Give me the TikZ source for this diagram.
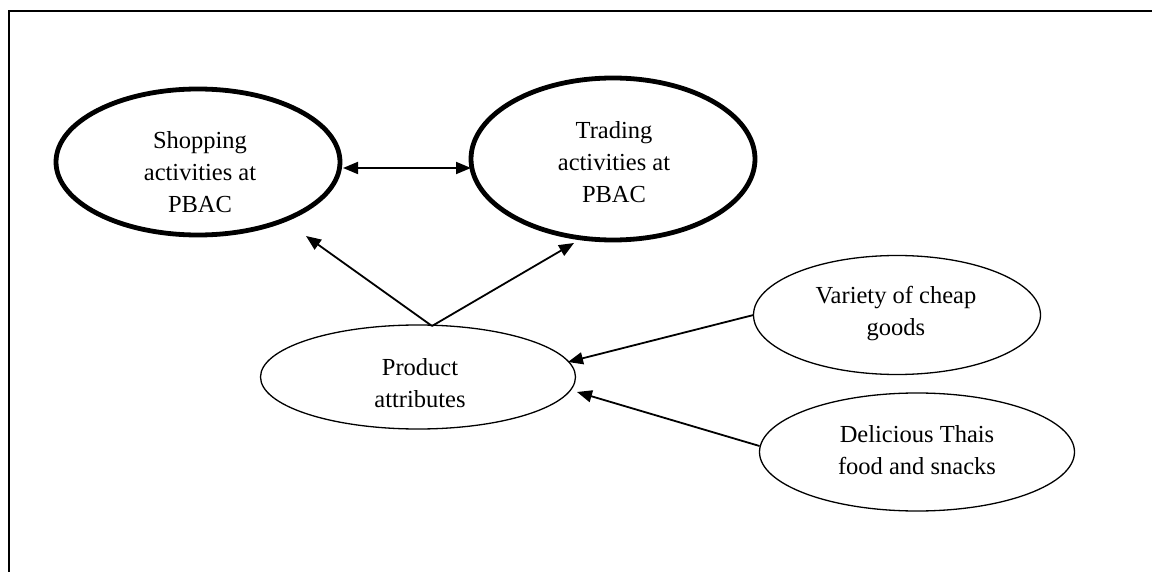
\documentclass[tikz,border=0pt]{standalone}
\usepackage{fontspec}
\setmainfont{Liberation Serif}
\usetikzlibrary{shapes.geometric,arrows.meta}
\begin{document}
\begin{tikzpicture}[x=1pt,y=-1pt,
  every node/.style={font=\fontsize{24.5}{32}\selectfont, align=center, inner sep=0pt, outer sep=0pt},
  bigoval/.style={ellipse, draw, line width=4.8pt},
  smalloval/.style={ellipse, draw, line width=1.3pt},
  link/.style={line width=1.8pt, -{Triangle[length=15pt,width=12pt]}},
  twolink/.style={line width=1.8pt, {Triangle[length=15pt,width=12pt]}-{Triangle[length=15pt,width=12pt]}}]
\useasboundingbox (0,0) rectangle (1152,572);
% open frame: top and left rules only
\draw[line width=1.4pt] (9,572) -- (9,11) -- (1152,11);

\node[bigoval, minimum width=284pt, minimum height=146pt] (shop) at (198,162) {};
\node at (200,172) {Shopping\\activities at\\PBAC};
\node[bigoval, minimum width=284pt, minimum height=162pt] (trade) at (613,159) {};
\node at (614,162) {Trading\\activities at\\PBAC};

\node[smalloval, minimum width=315pt, minimum height=104pt] (prod) at (418,377) {};
\node at (420,383) {Product\\attributes};
\node[smalloval, minimum width=287pt, minimum height=119pt] (var) at (897,315) {};
\node at (896,314) {Variety of cheap\\goods};
\node[smalloval, minimum width=315pt, minimum height=118pt] (del) at (917,452) {};
\node at (917,450) {Delicious Thais\\food and snacks};

\coordinate (ptop) at (432,326);
\draw[twolink] (shop.east) ++(3,6) coordinate (sE) (sE) -- (trade.west |- sE);
\draw[link] (ptop) -- (306,236);
\draw[link] (ptop) -- (574,243);
\draw[link] (var.west) -- (568,362);
\draw[link] (del.180) ++(0,-6) coordinate (dW) (dW) -- (577,392);
\end{tikzpicture}
\end{document}
